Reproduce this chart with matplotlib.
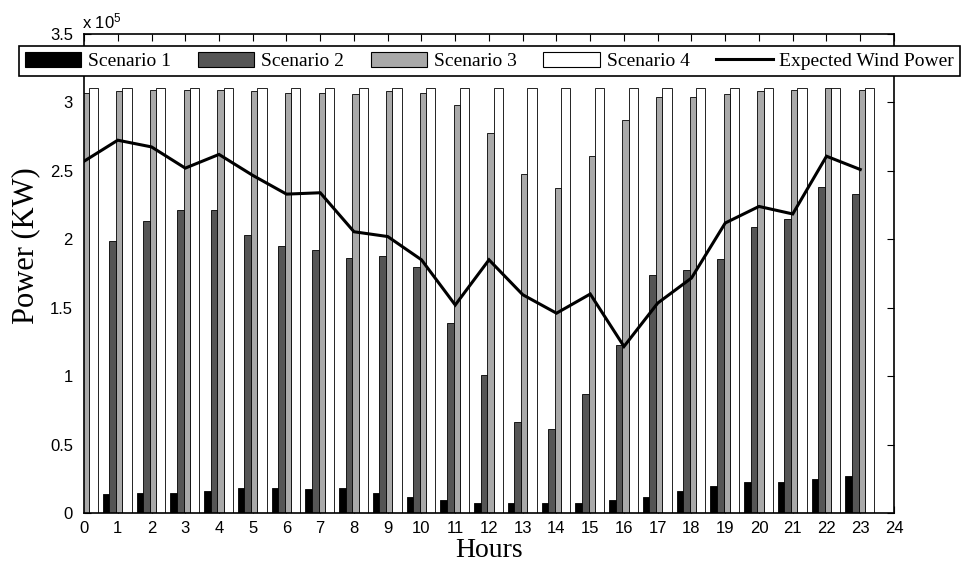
import numpy as np
import matplotlib
matplotlib.use("Agg")
import matplotlib.pyplot as plt
from matplotlib.ticker import FuncFormatter, MultipleLocator
from matplotlib.patches import Patch
from matplotlib.lines import Line2D

plt.rcParams['font.family'] = ['Liberation Sans', 'DejaVu Sans']
plt.rcParams['mathtext.default'] = 'regular'

hours = np.arange(24)
# values in KW
scenario1 = [np.nan, 13900, 14900, 14900, 16100, 18500, 18500, 17300, 18500, 14900, 11700, 9500,
             7300, 7300, 7300, 7300, 9500, 11700, 16100, 19700, 22900, 22900, 25100, 27300]
scenario2 = [np.nan, 199000, 213600, 221400, 221400, 203400, 195300, 192000, 186300, 187500, 179700, 139000,
             100700, 66800, 61200, 87000, 123000, 174100, 177500, 185600, 209200, 214800, 238500, 233000]
scenario3 = [307000, 308000, 309400, 309400, 309400, 308000, 307000, 307000, 306400, 308000, 307000, 298000,
             278000, 248000, 237500, 261000, 287000, 304000, 304000, 306000, 308000, 309400, 310700, 309400]
scenario4 = [310700] * 24
expected = [257000, 272400, 267500, 252000, 262000, 246700, 233000, 234000, 205500, 202000, 185000, 152000,
            185000, 159500, 146000, 160000, 121700, 153400, 171700, 211900, 224000, 218500, 260700, 251000]

labels = ['Scenario 1', 'Scenario 2', 'Scenario 3', 'Scenario 4', 'Expected Wind Power']
colors = ['#000000', '#555555', '#a9a9a9', '#ffffff']

fig = plt.figure(figsize=(9.61, 5.66), dpi=100)
ax = fig.add_axes([84/961, 1 - 513/566, (894 - 84)/961, (513 - 34)/566])

series = [scenario1, scenario2, scenario3, scenario4]
lefts = [-0.44, -0.245, -0.05, 0.14]
widths = [0.195, 0.195, 0.19, 0.27]
for s, c, l, w in zip(series, colors, lefts, widths):
    ax.bar(hours + l, s, width=w, align='edge', color=c, edgecolor='black', linewidth=0.6, zorder=2)

ax.plot(hours, expected, color='black', linewidth=2.2, zorder=5, solid_joinstyle='miter')

ax.set_xlim(0, 24)
ax.set_ylim(0, 350000)
ax.xaxis.set_major_locator(MultipleLocator(1))
ax.yaxis.set_major_locator(MultipleLocator(50000))
ax.yaxis.set_major_formatter(FuncFormatter(lambda v, p: f'{v/1e5:g}'))
ax.tick_params(direction='in', top=True, right=True, length=5, width=0.8,
               labelsize=12, pad=6, colors='black')
ax.tick_params(axis='y', pad=8)
for sp in ax.spines.values():
    sp.set_linewidth(1.2)
    sp.set_zorder(6)

fig.text(82/961, 1 - 28/566, 'x 10$^{5}$', fontsize=12, ha='left', va='baseline')

fig.text(26/961, 1 - 246/566, 'Power (KW)', rotation=90, fontsize=22,
         family=['Liberation Serif', 'DejaVu Serif'], ha='center', va='center')
fig.text(489/961, 1 - 557/566, 'Hours', fontsize=20,
         family=['Liberation Serif', 'DejaVu Serif'], ha='center', va='baseline')

handles = [Patch(facecolor=c, edgecolor='black', linewidth=0.8) for c in colors]
handles.append(Line2D([0], [0], color='black', linewidth=2.2))
leg = fig.legend(handles, labels, ncol=5, mode='expand',
                 bbox_to_anchor=(19/961, 1 - 76/566, (960 - 19)/961, 32/566),
                 loc='lower left', borderaxespad=0, fancybox=False, framealpha=1,
                 edgecolor='black', handlelength=2.9, handleheight=0.85, handletextpad=0.35,
                 borderpad=0.3, columnspacing=0.8,
                 prop={'family': ['Liberation Serif', 'DejaVu Serif'], 'size': 14})
leg.get_frame().set_linewidth(1.2)

fig.savefig('out.png', dpi=100)
